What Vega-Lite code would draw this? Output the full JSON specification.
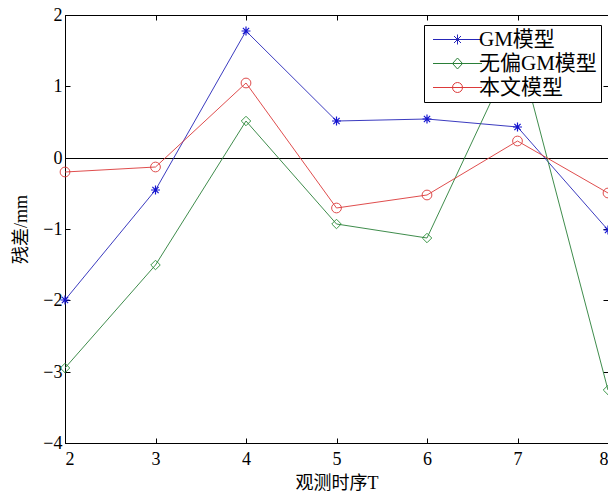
{
  "$schema": "https://vega.github.io/schema/vega-lite/v6.json",
  "width": 543,
  "height": 428,
  "autosize": "none",
  "padding": {"left": 65, "top": 15, "right": 0, "bottom": 50},
  "background": "white",
  "config": {
    "view": {"stroke": "black", "strokeWidth": 1},
    "font": "Liberation Serif, Noto Sans CJK SC",
    "axis": {
      "grid": false,
      "domainColor": "black",
      "tickColor": "black",
      "labelColor": "black",
      "titleColor": "black",
      "labelFont": "Liberation Serif",
      "labelFontSize": 18,
      "titleFont": "Liberation Serif, Noto Sans CJK SC",
      "titleFontSize": 18,
      "titleFontWeight": "normal",
      "tickSize": -5
    }
  },
  "data": {
    "values": [
      {"T": 2, "series": "GM模型", "value": -2.0},
      {"T": 3, "series": "GM模型", "value": -0.45},
      {"T": 4, "series": "GM模型", "value": 1.78},
      {"T": 5, "series": "GM模型", "value": 0.52},
      {"T": 6, "series": "GM模型", "value": 0.54},
      {"T": 7, "series": "GM模型", "value": 0.43},
      {"T": 8, "series": "GM模型", "value": -1.01},
      {"T": 2, "series": "无偏GM模型", "value": -2.95},
      {"T": 3, "series": "无偏GM模型", "value": -1.5},
      {"T": 4, "series": "无偏GM模型", "value": 0.52},
      {"T": 5, "series": "无偏GM模型", "value": -0.93},
      {"T": 6, "series": "无偏GM模型", "value": -1.12},
      {"T": 7, "series": "无偏GM模型", "value": 1.58},
      {"T": 8, "series": "无偏GM模型", "value": -3.25},
      {"T": 2, "series": "本文模型", "value": -0.2},
      {"T": 3, "series": "本文模型", "value": -0.13},
      {"T": 4, "series": "本文模型", "value": 1.05},
      {"T": 5, "series": "本文模型", "value": -0.7},
      {"T": 6, "series": "本文模型", "value": -0.53},
      {"T": 7, "series": "本文模型", "value": 0.23},
      {"T": 8, "series": "本文模型", "value": -0.49}
    ]
  },
  "resolve": {"axis": {"x": "independent", "y": "independent"}},
  "layer": [
    {
      "mark": {"type": "rule", "color": "black", "strokeWidth": 1, "yOffset": 0.5},
      "encoding": {"y": {"datum": 0, "type": "quantitative", "scale": {"domain": [-4, 2], "nice": false, "round": true}, "axis": null}}
    },
    {
      "mark": {"type": "line", "strokeWidth": 1, "opacity": 0.9},
      "encoding": {
        "x": {"field": "T", "type": "quantitative", "scale": {"domain": [2, 8], "nice": false, "zero": false},
              "axis": {"title": "观测时序T", "values": [2,3,4,5,6,7,8], "format": "d", "labelPadding": 12, "titlePadding": 6}},
        "y": {"field": "value", "type": "quantitative",
              "axis": {"title": "残差/mm", "values": [-4,-3,-2,-1,0,1,2], "labelPadding": 8, "titlePadding": 12}},
        "color": {"field": "series", "type": "nominal",
                  "scale": {"domain": ["GM模型", "无偏GM模型", "本文模型"], "range": ["#2626b8", "#2a7f38", "#dc3a3a"]},
                  "legend": {
                    "orient": "none", "legendX": 359, "legendY": 10, "title": null,
                    "strokeColor": "black", "fillColor": "white", "padding": 4,
                    "symbolSize": 400, "symbolStrokeWidth": 1, "symbolOpacity": 1, "symbolFillColor": "transparent",
                    "labelFont": "Liberation Serif, Noto Sans CJK SC", "labelFontSize": 21, "labelColor": "black",
                    "labelOffset": 30, "rowPadding": 2
                  }}
      }
    },
    {
      "mark": {"type": "point", "opacity": 0, "filled": false},
      "encoding": {
        "x": {"field": "T", "type": "quantitative", "axis": null},
        "y": {"field": "value", "type": "quantitative", "axis": null},
        "shape": {"field": "series", "type": "nominal",
                  "scale": {"domain": ["GM模型", "无偏GM模型", "本文模型"],
                            "range": ["M-0.55,0L4.35,0M1.4,0L2.4,0M1.9,-0.5L1.9,0.5M1.55,-0.35L2.25,0.35M1.55,0.35L2.25,-0.35",
                                      "M-0.55,0L4.35,0M1.4,0L1.9,-0.55L2.4,0L1.9,0.55Z",
                                      "M-0.55,0L4.35,0M2.4,0A0.5,0.5 0 1,1 1.4,0A0.5,0.5 0 1,1 2.4,0"]}}
      }
    },
    {
      "transform": [{"filter": "datum.series === 'GM模型'"}],
      "mark": {"type": "point", "filled": false, "strokeWidth": 1.2, "size": 80, "opacity": 1, "color": "#1515d0",
               "shape": "M-1,0L1,0M0,-1L0,1M-0.7,-0.7L0.7,0.7M-0.7,0.7L0.7,-0.7"},
      "encoding": {
        "x": {"field": "T", "type": "quantitative", "axis": null},
        "y": {"field": "value", "type": "quantitative", "axis": null}
      }
    },
    {
      "transform": [{"filter": "datum.series === '无偏GM模型'"}],
      "mark": {"type": "point", "filled": false, "strokeWidth": 1, "size": 90, "opacity": 0.9, "color": "#2a8f38", "shape": "diamond"},
      "encoding": {
        "x": {"field": "T", "type": "quantitative", "axis": null},
        "y": {"field": "value", "type": "quantitative", "axis": null}
      }
    },
    {
      "transform": [{"filter": "datum.series === '本文模型'"}],
      "mark": {"type": "point", "filled": false, "strokeWidth": 1, "size": 95, "opacity": 0.9, "color": "#dc3a3a", "shape": "circle"},
      "encoding": {
        "x": {"field": "T", "type": "quantitative", "axis": null},
        "y": {"field": "value", "type": "quantitative", "axis": null}
      }
    },
    {
      "mark": {"type": "point", "opacity": 0},
      "encoding": {
        "x": {"field": "T", "type": "quantitative", "axis": {"orient": "top", "labels": false, "title": null, "domain": false, "values": [2,3,4,5,6,7,8]}},
        "y": {"field": "value", "type": "quantitative", "axis": {"orient": "right", "labels": false, "title": null, "domain": false, "values": [-4,-3,-2,-1,0,1,2]}}
      }
    }
  ]
}
